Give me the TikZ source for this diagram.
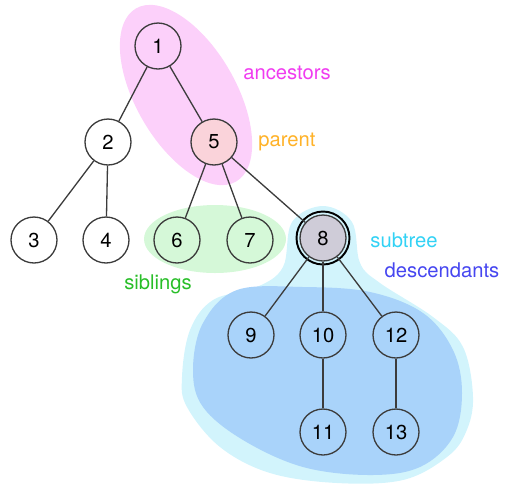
\documentclass[tikz,border=0pt]{standalone}
\usepackage{fontspec}
\setmainfont{TeX Gyre Heros}
\usepackage{tikz}
\usetikzlibrary{calc}
\definecolor{ancpink}{HTML}{FCD0FA}
\definecolor{sibgreen}{HTML}{D5F8D8}
\definecolor{subcyan}{HTML}{D2F4FC}
\definecolor{descblue}{HTML}{A9D3FA}
\definecolor{parfill}{HTML}{FAD3DA}
\definecolor{selfill}{HTML}{CFCCD8}
\definecolor{linegray}{HTML}{3C3C3C}
\tikzstyle{vertex} = [circle, draw=linegray, line width=0.75pt, minimum size=0.92cm, inner sep=0pt, font=\fontsize{11.5}{14}\selectfont]
\tikzstyle{edge} = [draw=linegray, line width=0.75pt]
\tikzstyle{tag} = [font=\fontsize{11.5}{14}\selectfont]

\begin{document}
\begin{tikzpicture}[x=0.02cm,y=-0.02cm]
	\useasboundingbox (0,0) rectangle (506,488);
	\fill[ancpink, rotate around={-60:(186,95)}] (186,95) ellipse (2cm and 1cm);
	\fill[sibgreen] (215,239) ellipse (1.42cm and 0.68cm);
	\fill[subcyan] plot[smooth cycle, tension=0.6] coordinates {(323,206) (352,222) (360,263) (380,283) (433,317) (463,347) (473,397) (466,432) (447,457) (403,480) (337,483) (270,473) (220,447) (187,407) (182,377) (190,330) (213,300) (257,287) (283,267) (292,222)};
	\fill[descblue] plot[smooth cycle, tension=0.6] coordinates {(237,290) (303,287) (370,292) (423,313) (453,350) (462,393) (453,437) (420,467) (370,475) (303,467) (243,440) (203,407) (193,370) (203,323)};
	\foreach \n/\x/\y in {1/158/46, 2/108/142, 3/34/240, 4/106/240, 6/177/240, 7/250/240, 9/251/335, 10/323/335, 12/396/335, 11/323/432, 13/396/432}
	\node[vertex] (n\n) at (\x,\y) {\n};
	\node[vertex, fill=parfill] (n5) at (214,142) {5};
	\node[vertex, fill=selfill] (n8) at (323,238) {8};
	\draw[line width=1.1pt] (n8.center) circle (0.53cm);
	\foreach \a/\b in {n1/n2, n1/n5, n2/n3, n2/n4, n5/n6, n5/n7, n5/n8, n8/n9, n8/n10, n8/n12, n10/n11, n12/n13}
	\draw[edge] (\a) -- (\b);
	\node[tag, text={rgb,255:red,240;green,60;blue,240}] (ancestors) at (287,73) {ancestors};
	\node[tag, text={rgb,255:red,255;green,178;blue,40}] (parent) at (287,142) {parent};
	\node[tag, text={rgb,255:red,50;green,210;blue,245}] (subtree) at (404,240) {subtree};
	\node[tag, text={rgb,255:red,70;green,70;blue,240}] (descendants) at (442,270) {descendants};
	\node[tag, text={rgb,255:red,40;green,190;blue,40}] (siblings) at (158,284) {siblings};
\end{tikzpicture}
\end{document}
